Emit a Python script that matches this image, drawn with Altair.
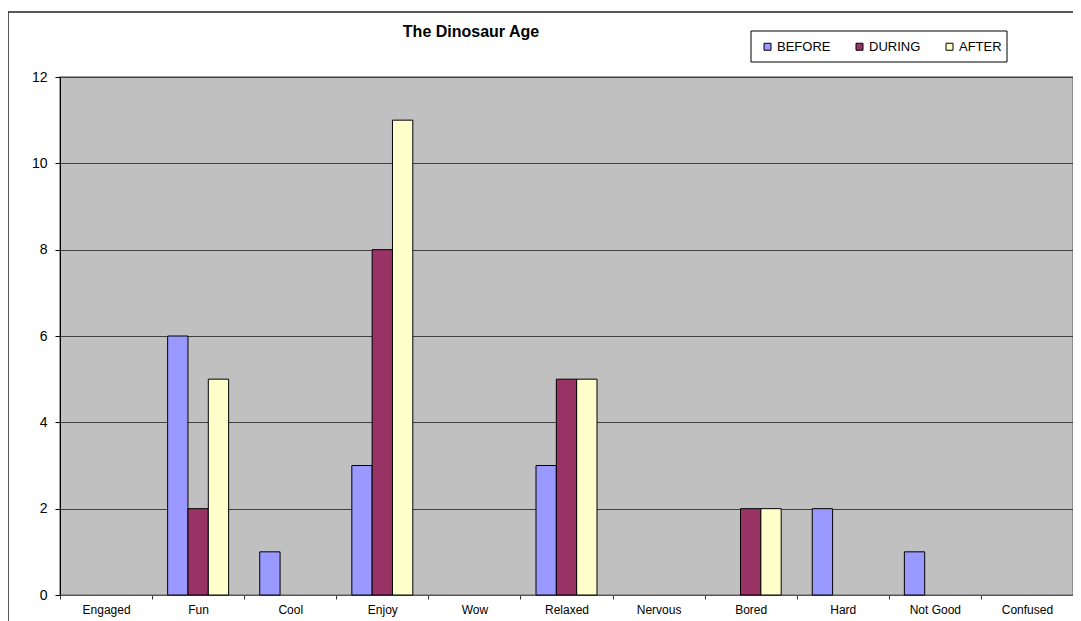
import altair as alt
import pandas as pd

title_text = ["The Dinosaur Age"]
categories = ["Engaged", "Fun", "Cool", "Enjoy", "Wow", "Relaxed", "Nervous",
              "Bored", "Hard", "Not Good", "Confused"]
series = ["BEFORE", "DURING", "AFTER"]
before = [0, 6, 1, 3, 0, 3, 0, 0, 2, 1, 0]
during = [0, 2, 0, 8, 0, 5, 0, 2, 0, 0, 0]
after = [0, 5, 0, 11, 0, 5, 0, 2, 0, 0, 0]
colors = ["#9999FF", "#993366", "#FFFFCC"]
y_ticks = [0, 2, 4, 6, 8, 10, 12]

rows = []
for s, vals in zip(series, [before, during, after]):
    for c, v in zip(categories, vals):
        rows.append({"category": c, "series": s, "value": v})
df = pd.DataFrame(rows)

W, H = 1013, 518
FONT = "Liberation Sans"

bars = alt.Chart(df).transform_filter("datum.value > 0").mark_bar(
    stroke="black", strokeWidth=1
).encode(
    x=alt.X("category:N", sort=categories,
            scale=alt.Scale(domain=categories, paddingInner=0, paddingOuter=0),
            axis=alt.Axis(title=None, labelAngle=0, tickBand="extent", grid=False,
                          domainColor="#555555", tickColor="#333333", tickSize=4,
                          labelPadding=5, labelFontSize=12, labelFont=FONT,
                          labelColor="black")),
    xOffset=alt.XOffset("series:N", sort=series,
                        scale=alt.Scale(domain=series, paddingInner=0, paddingOuter=0.765)),
    y=alt.Y("value:Q", scale=alt.Scale(domain=[0, 12], nice=False),
            axis=alt.Axis(title=None, values=y_ticks, grid=True, gridColor="#404040",
                          gridWidth=1, domainColor="black", tickColor="black",
                          tickSize=5, labelPadding=8, labelFontSize=14,
                          labelFont=FONT, labelColor="black")),
    color=alt.Color("series:N", sort=series,
                    scale=alt.Scale(domain=series, range=colors),
                    legend=alt.Legend(title=None, orient="none", direction="horizontal",
                                      legendX=701, legendY=-37, padding=0,
                                      symbolType="square", symbolSize=49,
                                      symbolStrokeColor="black", symbolStrokeWidth=1,
                                      labelFontSize=13, labelFont=FONT,
                                      labelColor="black", labelOffset=3,
                                      columnPadding=22)),
)

one = pd.DataFrame({"k": [0]})
outer = alt.Chart(one).mark_rect(fill="transparent", stroke="#222222", strokeWidth=1.5).encode(
    x=alt.value(-52), x2=alt.value(W + 40), y=alt.value(-65), y2=alt.value(H + 60)
)
legend_box = alt.Chart(one).mark_rect(fill="transparent", stroke="black", strokeWidth=1).encode(
    x=alt.value(691), x2=alt.value(947), y=alt.value(-46), y2=alt.value(-15)
)
title = alt.Chart(pd.DataFrame({"t": title_text})).mark_text(
    font=FONT, fontSize=16, fontWeight="bold", color="black",
    align="center", baseline="alphabetic"
).encode(text="t:N", x=alt.value(411), y=alt.value(-40))

chart = alt.layer(outer, legend_box, title, bars).properties(
    width=W, height=H,
    padding={"left": 52, "top": 69, "right": 0, "bottom": 26},
    autosize=alt.AutoSizeParams(type="none"),
    background="white",
).configure_view(fill="#C0C0C0", stroke="#808080", strokeWidth=1.5)

chart.save("out.html", embed_options={"renderer": "svg", "actions": False})
